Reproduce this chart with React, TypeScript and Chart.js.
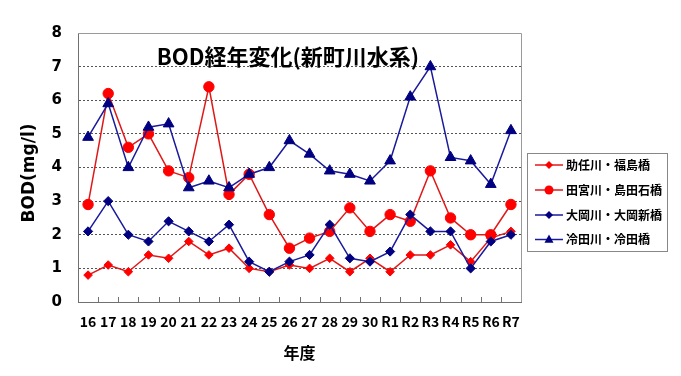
import { useEffect, useRef } from 'react';
import { Chart, registerables } from 'chart.js';

Chart.register(...registerables);

const years = ['16', '17', '18', '19', '20', '21', '22', '23', '24', '25', '26', '27', '28', '29', '30', 'R1', 'R2', 'R3', 'R4', 'R5', 'R6', 'R7'];
const seriesNames = ['助任川・福島橋', '田宮川・島田石橋', '大岡川・大岡新橋', '冷田川・冷田橋'];
const sukeninFukushima = [0.8, 1.1, 0.9, 1.4, 1.3, 1.8, 1.4, 1.6, 1.0, 0.9, 1.1, 1.0, 1.3, 0.9, 1.3, 0.9, 1.4, 1.4, 1.7, 1.2, 1.9, 2.1];
const tamiyaShimadaishi = [2.9, 6.2, 4.6, 5.0, 3.9, 3.7, 6.4, 3.2, 3.8, 2.6, 1.6, 1.9, 2.1, 2.8, 2.1, 2.6, 2.4, 3.9, 2.5, 2.0, 2.0, 2.9];
const ookaOokashin = [2.1, 3.0, 2.0, 1.8, 2.4, 2.1, 1.8, 2.3, 1.2, 0.9, 1.2, 1.4, 2.3, 1.3, 1.2, 1.5, 2.6, 2.1, 2.1, 1.0, 1.8, 2.0];
const hiedaHieda = [4.9, 5.9, 4.0, 5.2, 5.3, 3.4, 3.6, 3.4, 3.8, 4.0, 4.8, 4.4, 3.9, 3.8, 3.6, 4.2, 6.1, 7.0, 4.3, 4.2, 3.5, 5.1];
const yTicks = [0, 1, 2, 3, 4, 5, 6, 7, 8];
const chartTitle = 'BOD経年変化(新町川水系)';
const yTitle = 'BOD(mg/l)';
const xTitle = '年度';

const RED = '#ff0000';
const RED_LINE = '#e01818';
const NAVY = '#000080';
const NAVY_LINE = '#1a1a9c';
const JP = '"Noto Sans CJK JP", sans-serif';
const DV = '"DejaVu Sans", sans-serif';

function drawMarker(ctx: CanvasRenderingContext2D, style: string, x: number, y: number, r: number, color: string) {
  ctx.save();
  ctx.fillStyle = color;
  ctx.beginPath();
  if (style === 'circle') {
    ctx.arc(x, y, r, 0, Math.PI * 2);
  } else if (style === 'rectRot') {
    ctx.moveTo(x, y - r);
    ctx.lineTo(x + r, y);
    ctx.lineTo(x, y + r);
    ctx.lineTo(x - r, y);
    ctx.closePath();
  } else if (style === 'triangle') {
    ctx.moveTo(x, y - r);
    ctx.lineTo(x + r * 0.9, y + r * 0.65);
    ctx.lineTo(x - r * 0.9, y + r * 0.65);
    ctx.closePath();
  }
  ctx.fill();
  ctx.restore();
}

const overlayPlugin = {
  id: 'overlay',
  afterDraw(chart: any) {
    const { ctx, chartArea } = chart;
    const { left, right, top, bottom } = chartArea;
    ctx.save();
    // top / right border
    ctx.strokeStyle = '#9a9a9a';
    ctx.lineWidth = 1;
    ctx.setLineDash([]);
    ctx.beginPath();
    ctx.moveTo(left, Math.round(top) + 0.5);
    ctx.lineTo(Math.round(right) + 0.5, Math.round(top) + 0.5);
    ctx.lineTo(Math.round(right) + 0.5, bottom);
    ctx.stroke();
    // inward x tick marks at category boundaries
    ctx.strokeStyle = '#707070';
    const n = years.length;
    const w = (right - left) / n;
    ctx.beginPath();
    for (let i = 1; i < n; i++) {
      const x = Math.round(left + i * w) + 0.5;
      ctx.moveTo(x, bottom - 5);
      ctx.lineTo(x, bottom);
    }
    ctx.stroke();
    // title inside plot
    ctx.fillStyle = '#000';
    ctx.font = `bold 22px ${JP}`;
    ctx.textAlign = 'center';
    ctx.textBaseline = 'middle';
    ctx.fillText(chartTitle, 288, 57);
    // y axis title
    ctx.save();
    ctx.translate(29.5, 173);
    ctx.rotate(-Math.PI / 2);
    ctx.font = `bold 17px ${DV}`;
    ctx.textAlign = 'center';
    ctx.textBaseline = 'middle';
    ctx.fillText(yTitle, 0, 0);
    ctx.restore();
    // legend
    const lx = 527.5, ly = 153.5, lw = 140, lh = 98;
    ctx.fillStyle = '#fff';
    ctx.fillRect(lx, ly, lw, lh);
    ctx.strokeStyle = '#888';
    ctx.strokeRect(lx, ly, lw, lh);
    const rows = [165, 190, 215, 239.5];
    const styles = [
      { line: RED_LINE, color: RED, style: 'rectRot', r: 4 },
      { line: RED_LINE, color: RED, style: 'circle', r: 4.5 },
      { line: NAVY_LINE, color: NAVY, style: 'rectRot', r: 4 },
      { line: NAVY_LINE, color: NAVY, style: 'triangle', r: 5 },
    ];
    ctx.font = `bold 12px ${JP}`;
    ctx.textAlign = 'left';
    ctx.textBaseline = 'middle';
    rows.forEach((ry, i) => {
      const s = styles[i];
      ctx.strokeStyle = s.line;
      ctx.lineWidth = 1.5;
      ctx.beginPath();
      ctx.moveTo(535, ry);
      ctx.lineTo(563, ry);
      ctx.stroke();
      drawMarker(ctx, s.style, 549, ry, s.r, s.color);
      ctx.fillStyle = '#000';
      ctx.fillText(seriesNames[i], 566, ry);
    });
    ctx.restore();
  },
};

export default function App() {
  const canvasRef = useRef<HTMLCanvasElement | null>(null);

  useEffect(() => {
    const canvas = canvasRef.current;
    if (!canvas) return;
    const mk = (label: string, data: number[], line: string, color: string, style: string, r: number, order: number) => ({
      label,
      data,
      borderColor: line,
      backgroundColor: color,
      pointBackgroundColor: color,
      pointBorderColor: color,
      pointBorderWidth: 1,
      borderWidth: 1.5,
      pointStyle: style,
      pointRadius: r,
      tension: 0,
      fill: false,
      order,
    });
    const chart = new Chart(canvas, {
      type: 'line',
      data: {
        labels: years,
        datasets: [
          mk(seriesNames[0], sukeninFukushima, RED_LINE, RED, 'rectRot', 4.3, 3),
          mk(seriesNames[1], tamiyaShimadaishi, RED_LINE, RED, 'circle', 5.2, 2),
          mk(seriesNames[2], ookaOokashin, NAVY_LINE, NAVY, 'rectRot', 4.6, 1),
          mk(seriesNames[3], hiedaHieda, NAVY_LINE, NAVY, 'triangle', 6.2, 0),
        ] as any,
      },
      options: {
        responsive: false,
        animation: false,
        devicePixelRatio: 1,
        layout: { padding: { left: 0, top: 33, right: 160, bottom: 0 } },
        plugins: {
          legend: { display: false },
          tooltip: { enabled: false },
          title: { display: false },
        },
        scales: {
          x: {
            type: 'category',
            offset: true,
            grid: { display: false, drawTicks: false },
            border: { display: true, color: '#707070', width: 1 },
            ticks: {
              autoSkip: false,
              maxRotation: 0,
              minRotation: 0,
              padding: 11.5,
              color: '#000',
              font: { family: JP, size: 14, weight: 'bold' },
            },
            title: {
              display: true,
              text: xTitle,
              color: '#000',
              font: { family: JP, size: 16, weight: 'bold' },
              padding: { top: 0, bottom: 13 },
            },
            afterFit: (scale: any) => { scale.height = 74; },
          },
          y: {
            min: 0,
            max: 8,
            afterBuildTicks: (scale: any) => { scale.ticks = yTicks.map((v) => ({ value: v })); },
            grid: {
              drawTicks: false,
              color: (c: any) => (c.tick && (c.tick.value === 0 || c.tick.value === 8) ? 'rgba(0,0,0,0)' : '#555'),
              lineWidth: 1,
            },
            border: { display: true, color: '#707070', width: 1, dash: [2, 2] },
            ticks: {
              padding: 16,
              color: '#000',
              font: { family: DV, size: 15, weight: 'bold' },
            },
            title: { display: false },
            afterFit: (scale: any) => { scale.width = 78; },
          },
        },
      } as any,
      plugins: [overlayPlugin],
    });
    return () => chart.destroy();
  }, []);

  return (
    <div style={{ position: 'absolute', left: 0, top: 0, width: 681, height: 376, background: '#fff' }}>
      <canvas ref={canvasRef} width={681} height={376} style={{ display: 'block', width: 681, height: 376 }} />
    </div>
  );
}
